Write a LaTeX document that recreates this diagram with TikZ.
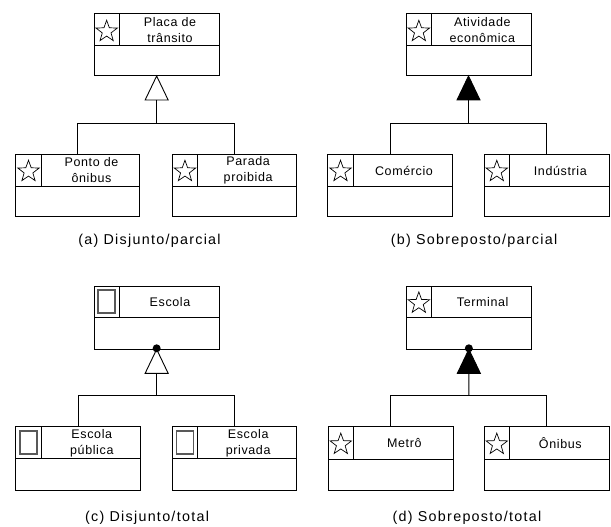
\documentclass[tikz,border=0pt]{standalone}
\usepackage{fontspec}
\setmainfont{Liberation Sans}[LetterSpace=5]
\newfontfamily\capfont{Liberation Sans}[LetterSpace=9]
\usetikzlibrary{shapes.geometric,fit}

\tikzset{
  boxline/.style={line width=1pt, black},
  classbox/.style={draw, line width=1pt, inner sep=0pt, outer sep=0pt},
  labeltext/.style={align=center, inner sep=0pt, font=\fontsize{12.5}{16}\selectfont},
  stariconstyle/.style={star, star points=5, star point ratio=2.45, minimum size=22.5pt, inner sep=0pt, draw, line width=0.7pt},
  recticonstyle/.style={draw=black!65, line width=1.4pt, minimum width=17pt, minimum height=23pt, inner sep=0pt},
  conn/.style={line width=0.9pt, black},
  triopen/.style={draw, line width=0.9pt, fill=white, line join=miter},
  trifull/.style={draw, line width=0.9pt, fill=black, line join=miter},
  gendot/.style={circle, fill=black, minimum size=8pt, inner sep=0pt},
  caption/.style={anchor=base, inner sep=0pt, font=\capfont\fontsize{14.3}{16}\selectfont}
}

% id x1 y1 x2 y2 ydiv xicon text
\newcommand{\umlclass}[8]{%
  \coordinate (#1-nw) at (#2,#3);
  \coordinate (#1-se) at (#4,#5);
  \node[classbox, fit={(#1-nw)(#1-se)}] (#1) {};
  \draw[boxline] (#2,#6) -- (#4,#6);
  \draw[boxline] (#7,#3) -- (#7,#6);
  \node[labeltext] (#1-name) at ({(#7+#4)/2+1},{(#3+#6)/2+0.5}) {#8};
}
% id x1 y1 xicon ydiv
\newcommand{\staricon}[5]{%
  \node[stariconstyle] (#1-icon) at ({(#2+#4)/2},{(#3+#5)/2+1.5}) {};
}
\newcommand{\recticon}[5]{%
  \node[recticonstyle] (#1-icon) at ({(#2+#4)/2},{(#3+#5)/2}) {};
}

\begin{document}
\begin{tikzpicture}[x=1pt,y=-1pt]
\useasboundingbox[fill=white] (0,0) rectangle (611,527);

% ---------- (a) ----------
\umlclass{atop}{94.3}{14}{219}{76}{46}{119}{Placa de\\trânsito}
\staricon{atop}{94.3}{14}{119}{46}
\umlclass{aleft}{15.7}{154}{139.7}{216.7}{186}{41.3}{Ponto de\\ônibus}
\staricon{aleft}{15.7}{154}{41.3}{186}
\umlclass{aright}{172.3}{154}{296.7}{216.7}{186}{197.6}{Parada\\proibida}
\staricon{aright}{172.3}{154}{197.6}{186}
\coordinate (a-apex) at (atop.south);
\draw[triopen] (a-apex) -- ++(-11.5,24) -- ++(23,0) -- cycle;
\path (a-apex) ++(0,24) coordinate (a-base);
\coordinate (a-bar) at (156.65,123.3);
\draw[conn] (a-base) -- (a-bar);
\draw[conn] (a-bar) -| (aleft.north);
\draw[conn] (a-bar) -| (aright.north);
\node[caption] (a-cap) at (149.5,244.5) {(a) Disjunto/parcial};

% ---------- (b) ----------
\umlclass{btop}{406}{14}{531}{76}{46}{431.7}{Atividade\\econômica}
\staricon{btop}{406}{14}{431.7}{46}
\umlclass{bleft}{327.7}{154}{452.7}{216.7}{186}{353.3}{Comércio}
\staricon{bleft}{327.7}{154}{353.3}{186}
\umlclass{bright}{484.3}{154}{609.3}{216.7}{186}{509.3}{Indústria}
\staricon{bright}{484.3}{154}{509.3}{186}
\coordinate (b-apex) at (btop.south);
\draw[trifull] (b-apex) -- ++(-11.5,24) -- ++(23,0) -- cycle;
\path (b-apex) ++(0,24) coordinate (b-base);
\coordinate (b-bar) at (468.5,123.3);
\draw[conn] (b-base) -- (b-bar);
\draw[conn] (b-bar) -| (bleft.north);
\draw[conn] (b-bar) -| (bright.north);
\node[caption] (b-cap) at (474,244.5) {(b) Sobreposto/parcial};

% ---------- (c) ----------
\umlclass{ctop}{94.3}{286}{219}{349.3}{317.3}{119}{Escola}
\recticon{ctop}{94.3}{286}{119}{317.3}
\umlclass{cleft}{15.7}{426.7}{140.3}{490}{458.3}{41.3}{Escola\\pública}
\recticon{cleft}{15.7}{426.7}{41.3}{458.3}
\umlclass{cright}{172.3}{426.7}{296.7}{490}{458.3}{197.6}{Escola\\privada}
\recticon{cright}{172.3}{426.7}{197.6}{458.3}
\coordinate (c-apex) at (ctop.south);
\draw[triopen] (c-apex) -- ++(-11.5,24) -- ++(23,0) -- cycle;
\node[gendot] (c-dot) at ([yshift=1pt]c-apex) {};
\path (c-apex) ++(0,24) coordinate (c-base);
\coordinate (c-bar) at (156.65,395.7);
\draw[conn] (c-base) -- (c-bar);
\draw[conn] (c-bar) -| (cleft.north);
\draw[conn] (c-bar) -| (cright.north);
\node[caption] (c-cap) at (147,521.7) {(c) Disjunto/total};

% ---------- (d) ----------
\umlclass{dtop}{406}{286}{531.7}{349.3}{317.3}{431.7}{Terminal}
\staricon{dtop}{406}{286}{431.7}{317.3}
\umlclass{dleft}{328.3}{426.7}{453.3}{490}{459}{353.3}{Metrô}
\staricon{dleft}{328.3}{426.7}{353.3}{459}
\umlclass{dright}{484.3}{426.7}{609.3}{490}{459}{509.3}{Ônibus}
\staricon{dright}{484.3}{426.7}{509.3}{459}
\coordinate (d-apex) at (dtop.south);
\draw[trifull] (d-apex) -- ++(-11.5,24) -- ++(23,0) -- cycle;
\node[gendot] (d-dot) at ([yshift=1pt]d-apex) {};
\path (d-apex) ++(0,24) coordinate (d-base);
\coordinate (d-bar) at (468.85,395.7);
\draw[conn] (d-base) -- (d-bar);
\draw[conn] (d-bar) -| (dleft.north);
\draw[conn] (d-bar) -| (dright.north);
\node[caption] (d-cap) at (467,521.7) {(d) Sobreposto/total};
\end{tikzpicture}
\end{document}
